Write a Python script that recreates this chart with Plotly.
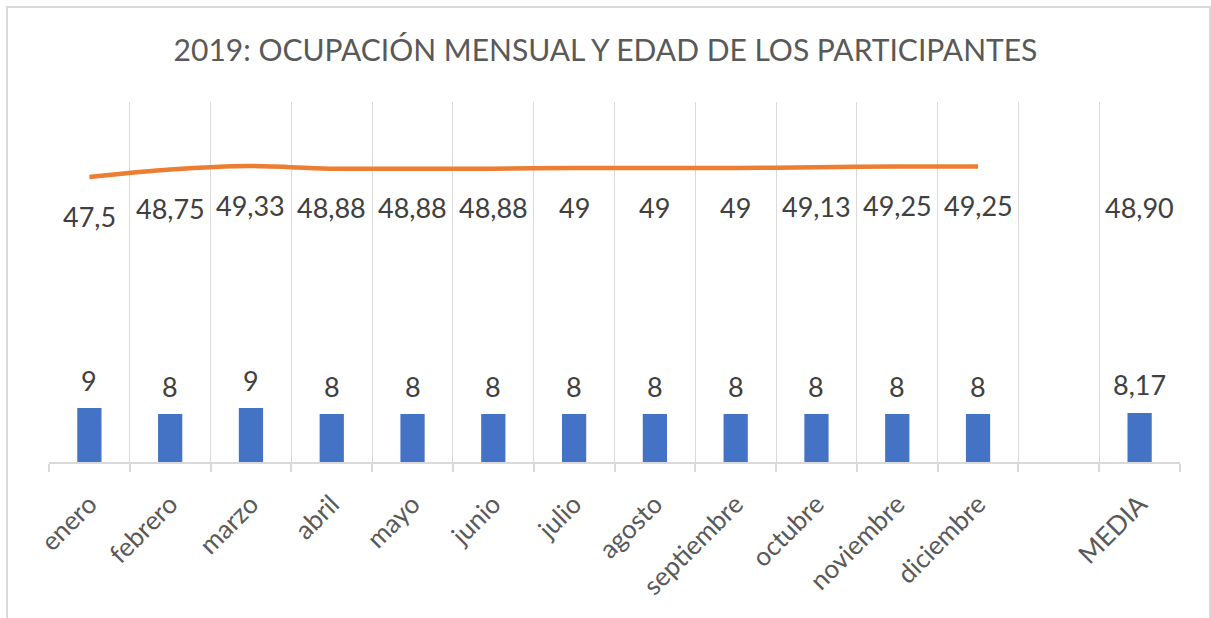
import plotly.graph_objects as go

categories = ["enero", "febrero", "marzo", "abril", "mayo", "junio", "julio",
              "agosto", "septiembre", "octubre", "noviembre", "diciembre", " ", "MEDIA"]
bar_values = [9, 8, 9, 8, 8, 8, 8, 8, 8, 8, 8, 8, None, 8.17]
bar_labels = ["9", "8", "9", "8", "8", "8", "8", "8", "8", "8", "8", "8", None, "8,17"]
line_values = [47.5, 48.75, 49.33, 48.88, 48.88, 48.88, 49, 49, 49, 49.13, 49.25, 49.25, None, 48.90]
line_labels = ["47,5", "48,75", "49,33", "48,88", "48,88", "48,88", "49", "49", "49",
               "49,13", "49,25", "49,25", None, "48,90"]
title_text = "2019: OCUPACIÓN MENSUAL Y EDAD DE LOS PARTICIPANTES"

FONT = "Lato"
GRID = "#D9D9D9"
TXT = "#595959"
LBL = "#404040"

fig = go.Figure()
fig.add_trace(go.Bar(x=categories, y=bar_values, width=0.3,
                     marker=dict(color="#4472C4", line=dict(width=0)),
                     showlegend=False, hoverinfo="skip"))
fig.add_trace(go.Scatter(x=categories, y=line_values, mode="lines",
                         line=dict(color="#ED7D31", width=4.5, shape="spline", smoothing=0.8),
                         connectgaps=False, showlegend=False, hoverinfo="skip"))

annotations = []
for c, v, t in zip(categories, bar_values, bar_labels):
    if v is None:
        continue
    annotations.append(dict(x=c, y=v, text=t, showarrow=False, xref="x", yref="y",
                            yanchor="middle", yshift=28,
                            font=dict(family=FONT, size=27, color=LBL)))
for c, v, t in zip(categories, line_values, line_labels):
    if v is None:
        continue
    annotations.append(dict(x=c, y=v, text=t, showarrow=False, xref="x", yref="y",
                            yanchor="middle", yshift=-39,
                            font=dict(family=FONT, size=27, color=LBL)))

fig.update_layout(
    width=1211, height=618,
    margin=dict(l=49, r=31, t=102, b=156, autoexpand=False),
    paper_bgcolor="white", plot_bgcolor="white",
    title=dict(text=title_text, x=0.5, xanchor="center", xref="container",
               y=1 - 50 / 618, yanchor="middle", yref="container",
               font=dict(family=FONT, size=30, color=TXT)),
    annotations=annotations,
    shapes=[dict(type="rect", xref="paper", yref="paper",
                 x0=(7 - 49) / 1131, x1=(1210 - 49) / 1131,
                 y0=(462 - 640) / 360, y1=(462 - 7) / 360,
                 line=dict(color=GRID, width=2), layer="below")],
    xaxis=dict(type="category", tickson="boundaries", showgrid=True, gridcolor=GRID,
               gridwidth=1, showline=True, linecolor=GRID, linewidth=1.5,
               ticks="outside", ticklen=8, tickcolor=GRID, tickwidth=1.5,
               tickangle=-45, ticklabelstandoff=15, automargin=False,
               tickfont=dict(family=FONT, size=26, color=TXT), zeroline=False),
    yaxis=dict(range=[0, 60], visible=False, showgrid=False, zeroline=False),
)

fig.write_html("out.html", config={"displayModeBar": False},
               post_script="document.body.style.margin='0px';document.body.style.overflow='hidden';")
